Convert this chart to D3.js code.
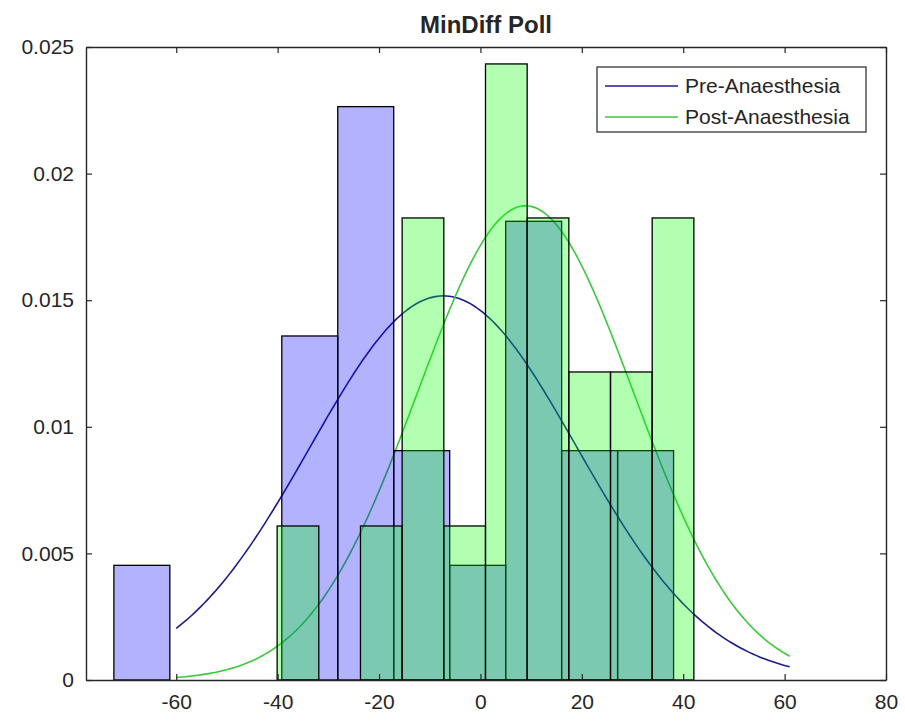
<!DOCTYPE html>
<html>
<head>
<meta charset="utf-8">
<script src="https://cdn.jsdelivr.net/npm/d3@7"></script>
<style>
  body { margin: 0; background: #fff; }
  svg text { font-family: "Liberation Sans", Arial, sans-serif; fill: #262626; }
</style>
</head>
<body>
<div id="chart"></div>
<script>
// histogram bins (bin start, bin width, counts)
var preStart = -72.3, preWidth = 11.04;
var preCounts = [1, 0, 0, 3, 5, 2, 1, 4, 2, 2];
var postStart = -40.1, postWidth = 8.22;
var postCounts = [1, 0, 1, 3, 1, 4, 3, 2, 2, 3];

// fitted normal curves (mean, sd) and their x range
var preFit = { mu: -7.3, sigma: 26.3 };
var postFit = { mu: 8.9, sigma: 21.3 };
var curveRange = [-60, 61];

var xTicks = [-60, -40, -20, 0, 20, 40, 60, 80];
var yTicks = [0, 0.005, 0.01, 0.015, 0.02, 0.025];
var seriesNames = ["Pre-Anaesthesia", "Post-Anaesthesia"];

var width = 905, height = 724;
var margin = { top: 47, left: 86, right: 19, bottom: 44 };

var svg = d3.select("#chart").append("svg")
    .attr("width", width)
    .attr("height", height);

var x = d3.scaleLinear().domain([-77.8, 80]).range([margin.left, width - margin.right]);
var y = d3.scaleLinear().domain([0, 0.025]).range([height - margin.bottom, margin.top]);

// turn counts into pdf-normalised bars
function bins(start, w, counts) {
    var n = d3.sum(counts);
    return counts.map(function (c, i) {
        return { x0: start + i * w, x1: start + (i + 1) * w, v: c / (n * w) };
    }).filter(function (d) { return d.v > 0; });
}

function pdf(fit) {
    var pts = [];
    var step = (curveRange[1] - curveRange[0]) / 200;
    for (var i = 0; i <= 200; i++) {
        var t = curveRange[0] + i * step;
        var z = (t - fit.mu) / fit.sigma;
        pts.push([t, Math.exp(-0.5 * z * z) / (fit.sigma * Math.sqrt(2 * Math.PI))]);
    }
    return pts;
}

var line = d3.line()
    .x(function (d) { return x(d[0]); })
    .y(function (d) { return y(d[1]); });

// lines go under the transparent bars, like matlab renders them
var preColor = "#1c1c8f", postColor = "#3cc93c";
svg.append("path").datum(pdf(preFit))
    .attr("d", line).attr("fill", "none")
    .attr("stroke", preColor).attr("stroke-width", 1.6);
svg.append("path").datum(pdf(postFit))
    .attr("d", line).attr("fill", "none")
    .attr("stroke", postColor).attr("stroke-width", 1.6);

function drawBars(data, color, cls) {
    svg.selectAll("." + cls)
        .data(data)
        .enter().append("rect")
        .attr("class", cls)
        .attr("x", function (d) { return x(d.x0); })
        .attr("width", function (d) { return x(d.x1) - x(d.x0); })
        .attr("y", function (d) { return y(d.v); })
        .attr("height", function (d) { return y(0) - y(d.v); })
        .attr("fill", color)
        .attr("fill-opacity", 0.3)
        .attr("stroke", "#000")
        .attr("stroke-width", 1.3);
}
drawBars(bins(preStart, preWidth, preCounts), "#0000ff", "pre-bar");
drawBars(bins(postStart, postWidth, postCounts), "#00ff00", "post-bar");

// axes: ticks inside, box all round
var tickLen = 6;
var plainNum = function (d) { return String(+d.toFixed(3)); }; // hyphen minus, like matlab
var xAxis = d3.axisBottom(x).tickValues(xTicks).tickSizeInner(-tickLen).tickSizeOuter(0).tickPadding(14)
    .tickFormat(plainNum);
var yAxis = d3.axisLeft(y).tickValues(yTicks).tickSizeInner(-tickLen).tickSizeOuter(0).tickPadding(12)
    .tickFormat(plainNum);

var gx = svg.append("g").attr("transform", "translate(0," + y(0) + ")").call(xAxis);
var gy = svg.append("g").attr("transform", "translate(" + x.range()[0] + ",0)").call(yAxis);
var gxTop = svg.append("g").attr("transform", "translate(0," + y.range()[1] + ")")
    .call(d3.axisTop(x).tickValues(xTicks).tickSizeInner(-tickLen).tickSizeOuter(0).tickFormat(""));
var gyRight = svg.append("g").attr("transform", "translate(" + x.range()[1] + ",0)")
    .call(d3.axisRight(y).tickValues(yTicks).tickSizeInner(-tickLen).tickSizeOuter(0).tickFormat(""));

[gx, gy, gxTop, gyRight].forEach(function (g) {
    g.select(".domain").attr("stroke", "#262626").attr("stroke-width", 1.4);
    g.selectAll(".tick line").attr("stroke", "#262626").attr("stroke-width", 1.2);
    g.selectAll(".tick text")
        .attr("font-size", 21)
        .attr("font-family", "'Liberation Sans', Arial, sans-serif")
        .attr("fill", "#262626");
});

// title
svg.append("text")
    .attr("x", (x.range()[0] + x.range()[1]) / 2)
    .attr("y", 33)
    .attr("text-anchor", "middle")
    .attr("font-size", 24)
    .attr("font-weight", "bold")
    .attr("fill", "#000")
    .text("MinDiff Poll");

// legend
var lg = svg.append("g").attr("transform", "translate(597,67)");
lg.append("rect")
    .attr("width", 269).attr("height", 65)
    .attr("fill", "#fff").attr("stroke", "#262626").attr("stroke-width", 1.2);
[preColor, postColor].forEach(function (c, i) {
    var yy = 19 + i * 31;
    lg.append("line")
        .attr("x1", 8).attr("x2", 81).attr("y1", yy).attr("y2", yy)
        .attr("stroke", c).attr("stroke-width", 1.6);
    lg.append("text")
        .attr("x", 88).attr("y", yy)
        .attr("dy", "0.35em")
        .attr("font-size", 21)
        .text(seriesNames[i]);
});
</script>
</body>
</html>
